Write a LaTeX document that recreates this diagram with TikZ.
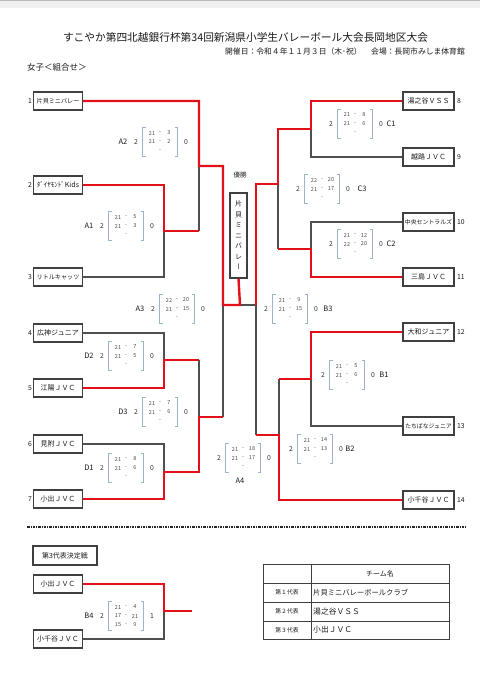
\documentclass[tikz,border=0pt]{standalone}
\usepackage{fontspec}
\setmainfont{Noto Sans CJK JP}
\newfontfamily\vfont[RawFeature=+vert]{Noto Sans CJK JP}
\definecolor{wred}{HTML}{E3101A}
\definecolor{lgray}{HTML}{4F4F4F}
\definecolor{bcol}{HTML}{9EB3CE}
\definecolor{txt}{HTML}{1A1A1A}
\tikzset{
 team/.style={draw=black!75, fill=white, line width=1.1pt, minimum width=49pt, minimum height=18pt, inner sep=0pt, font=\fontsize{7}{7}\selectfont, text=txt},
 rteam/.style={team, minimum width=51pt},
 winln/.style={draw=wred, line width=2.4pt},
 loseln/.style={draw=lgray, line width=1.2pt},
 brk/.style={draw=bcol, line width=0.6pt},
 num/.style={font=\fontsize{6.8}{7}\selectfont, text=txt, inner sep=0pt},
 sc/.style={font=\fontsize{5.5}{6}\selectfont, text=black!70, inner sep=0pt},
 res/.style={font=\fontsize{6.8}{7}\selectfont, text=black!80, inner sep=0pt},
 lbl/.style={font=\fontsize{7.5}{8}\selectfont, text=txt, inner sep=0pt},
 tbl/.style={draw=black!75, line width=1pt},
 small7/.style={font=\fontsize{6.1}{6}\selectfont},
}
\newcommand{\sblk}[9]{%
 \draw[brk] (#2-14.5,#3-14.5) -- (#2-17.5,#3-14.5) -- (#2-17.5,#3+14.5) -- (#2-14.5,#3+14.5);
 \draw[brk] (#2+14.5,#3-14.5) -- (#2+17.5,#3-14.5) -- (#2+17.5,#3+14.5) -- (#2+14.5,#3+14.5);
 \node[sc] (#1a1) at (#2-8,#3-9) {#4};
 \node[sc] (#1d1) at (#2,#3-9) {-};
 \node[sc] (#1b1) at (#2+9,#3-9) {#5};
 \node[sc] (#1a2) at (#2-8,#3) {#6};
 \node[sc] (#1d2) at (#2,#3) {-};
 \node[sc] (#1b2) at (#2+9,#3) {#7};
 \node[sc] (#1a3) at (#2-8,#3+9) {#8};
 \node[sc] (#1d3) at (#2,#3+9) {-};
 \node[sc] (#1b3) at (#2+9,#3+9) {#9};
}
\newcommand{\sres}[5]{%
 \node[res] (#1w) at (#2-24,#3) {#4};
 \node[res] (#1l) at (#2+26,#3) {#5};
}
\begin{document}
\begin{tikzpicture}[x=1pt,y=-1pt]
\useasboundingbox (0,0) rectangle (480,683);
\fill[white] (0,0) rectangle (480,683);
\fill[gray!12] (0,0) rectangle (480,8);
\draw[gray!55, line width=1pt] (0,0.8) -- (480,0.8);

% headings
\node[font=\fontsize{10.7}{12}\selectfont, text=txt, inner sep=0pt] (title) at (245.5,37) {すこやか第四北越銀行杯第34回新潟県小学生バレーボール大会長岡地区大会};
\node[font=\fontsize{7.8}{8}\selectfont, text=txt, inner sep=0pt, anchor=east] (sub) at (465,52) {開催日：令和４年１１月３日（木･祝）　 会場：長岡市みしま体育館};
\node[font=\fontsize{8.5}{9}\selectfont, text=txt, inner sep=0pt, anchor=west] (sec) at (27,67) {女子＜組合せ＞};

% junction coordinates
\coordinate (jA1) at (164,231);
\coordinate (jA1o) at (199,231);
\coordinate (jA2) at (199,166);
\coordinate (jA3t) at (223,166);
\coordinate (jA3) at (223,305);
\coordinate (jD2) at (164,360);
\coordinate (jD2o) at (199,360);
\coordinate (jD1) at (164,472);
\coordinate (jD1o) at (199,472);
\coordinate (jD3) at (199,417);
\coordinate (jD3o) at (223,417);
\coordinate (jF) at (240,305);
\coordinate (jC1) at (311,129);
\coordinate (jC1o) at (278,129);
\coordinate (jC3) at (278,184);
\coordinate (jC3o) at (256,184);
\coordinate (jC2) at (311,249);
\coordinate (jC2o) at (278,249);
\coordinate (jB3) at (256,305);
\coordinate (jB1) at (311,379);
\coordinate (jB1o) at (279,379);
\coordinate (jB2) at (279,435);
\coordinate (jB2o) at (256,435);
\coordinate (jB4) at (164,611);
\coordinate (jB4o) at (192,611);

% team boxes (left)
\node[team, small7] (t1) at (58,101) {片貝ミニバレー};
\node[team] (t2) at (58,185) {ﾀﾞｲﾔﾓﾝﾄﾞKids};
\node[team, small7] (t3) at (58,277) {リトルキャッツ};
\node[team] (t4) at (58,333) {広神ジュニア};
\node[team] (t5) at (58,388) {江陽ＪＶＣ};
\node[team] (t6) at (58,444) {見附ＪＶＣ};
\node[team] (t7) at (58,499) {小出ＪＶＣ};
% team boxes (right)
\node[rteam] (t8) at (428.5,101) {湯之谷ＶＳＳ};
\node[rteam] (t9) at (428.5,157) {越路ＪＶＣ};
\node[rteam, font=\fontsize{5.9}{6}\selectfont] (t10) at (428.5,222) {中央セントラルズ};
\node[rteam] (t11) at (428.5,277) {三島ＪＶＣ};
\node[rteam] (t12) at (428.5,332) {大和ジュニア};
\node[rteam, font=\fontsize{5.9}{6}\selectfont] (t13) at (428.5,426) {たちばなジュニア};
\node[rteam] (t14) at (428.5,500) {小千谷ＪＶＣ};

% winner box
\node[font=\fontsize{6.5}{7}\selectfont, text=txt, inner sep=0pt] (yusho) at (240,175) {優勝};
\node[draw=black!75, fill=white, line width=1.1pt, minimum width=17pt, minimum height=85pt, inner sep=0pt, align=center, font=\vfont\fontsize{7}{10.5}\selectfont, text=txt] (win) at (238.5,235.5) {片\\貝\\ミ\\ニ\\バ\\レ\\ー};

% team numbers
\foreach \i/\y in {1/101,2/185,3/277,4/333,5/388,6/444,7/499}
  \node[num] (n\i) at (30,\y) {\i};
\foreach \i/\y in {8/101,9/157,10/222,11/277,12/332,13/426,14/500}
  \node[num, anchor=west] (n\i) at (457,\y) {\i};

% losing lines
\draw[loseln] (t3.east) -| (jA1);
\draw[loseln] (jA1o) -- (jA2);
\draw[loseln] (t4.east) -| (jD2);
\draw[loseln] (t6.east) -| (jD1);
\draw[loseln] (jD2o) -- (jD3);
\draw[loseln] (jD3o) -- (jA3);
\draw[loseln] (jB3) -- (jF);
\draw[loseln] (t9.west) -| (jC1);
\draw[loseln] (t10.west) -| (jC2);
\draw[loseln] (jC2o) -- (jC3);
\draw[loseln] (t13.west) -| (jB1);
\draw[loseln] (jB1o) -- (jB2);
\draw[loseln] (jB2o) -- (jB3);

% winning lines
\draw[winln] (t1.east) -| (jA2) -- (jA3t) -- (jA3) -- (jF) -- (win.south);
\draw[winln] (t2.east) -| (jA1) -- (jA1o);
\draw[winln] (t5.east) -| (jD2) -- (jD2o);
\draw[winln] (t7.east) -| (jD1) -- (jD1o) -- (jD3) -- (jD3o);
\draw[winln] (t8.west) -| (jC1) -- (jC1o) -- (jC3) -- (jC3o) -- (jB3);
\draw[winln] (t11.west) -| (jC2) -- (jC2o);
\draw[winln] (t12.west) -| (jB1) -- (jB1o);
\draw[winln] (t14.west) -| (jB2) -- (jB2o);

% score blocks left
\sblk{A2}{160}{142}{21}{3}{21}{2}{}{}
\sres{A2}{160}{142}{2}{0}
\node[lbl] (A2n) at (123,142) {A2};
\sblk{A1}{126}{226}{21}{5}{21}{3}{}{}
\sres{A1}{126}{226}{2}{0}
\node[lbl] (A1n) at (89,226) {A1};
\sblk{A3}{177}{309}{22}{20}{21}{15}{}{}
\sres{A3}{177}{309}{2}{0}
\node[lbl] (A3n) at (140,309) {A3};
\sblk{D2}{126}{356}{21}{7}{21}{5}{}{}
\sres{D2}{126}{356}{2}{0}
\node[lbl] (D2n) at (89,356) {D2};
\sblk{D3}{160}{412}{21}{7}{21}{6}{}{}
\sres{D3}{160}{412}{2}{0}
\node[lbl] (D3n) at (123,412) {D3};
\sblk{D1}{126}{468}{21}{8}{21}{6}{}{}
\sres{D1}{126}{468}{2}{0}
\node[lbl] (D1n) at (89,468) {D1};
\sblk{A4}{243}{458}{21}{18}{21}{17}{}{}
\sres{A4}{243}{458}{2}{0}
\node[lbl] (A4n) at (240,481) {A4};
% score blocks right
\sblk{C1}{355}{124}{21}{8}{21}{6}{}{}
\sres{C1}{355}{124}{2}{0}
\node[lbl] (C1n) at (391,124) {C1};
\sblk{C3}{322}{189}{22}{20}{21}{17}{}{}
\sres{C3}{322}{189}{2}{0}
\node[lbl] (C3n) at (362,189) {C3};
\sblk{C2}{355}{244}{21}{12}{22}{20}{}{}
\sres{C2}{355}{244}{2}{0}
\node[lbl] (C2n) at (391,244) {C2};
\sblk{B3}{290}{309}{21}{9}{21}{15}{}{}
\sres{B3}{290}{309}{2}{0}
\node[lbl] (B3n) at (328,309) {B3};
\sblk{B1}{347}{375}{21}{5}{21}{6}{}{}
\sres{B1}{347}{375}{2}{0}
\node[lbl] (B1n) at (384,375) {B1};
\sblk{B2}{315}{449}{21}{14}{21}{13}{}{}
\sres{B2}{315}{449}{2}{0}
\node[lbl] (B2n) at (350,449) {B2};

% separator
\draw[black!85, line width=1.5pt, dash pattern=on 2.5pt off 1pt on 1pt off 1pt] (27,527) -- (466,527);

% third place
\node[team, minimum width=64pt, minimum height=19pt, font=\fontsize{7}{7}\selectfont] (tp0) at (65,555.5) {第3代表決定戦};
\node[team] (tp1) at (58,584) {小出ＪＶＣ};
\node[team] (tp2) at (58,639) {小千谷ＪＶＣ};
\draw[loseln] (tp2.east) -| (jB4);
\draw[winln] (tp1.east) -| (jB4) -- (jB4o);
\sblk{B4}{126}{616}{21}{4}{17}{21}{15}{9}
\sres{B4}{126}{616}{2}{1}
\node[lbl] (B4n) at (89,616) {B4};

% table
\draw[tbl] (263,564) rectangle (449,639);
\draw[tbl] (311,564) -- (311,639);
\draw[tbl] (263,583) -- (449,583);
\draw[tbl] (263,602) -- (449,602);
\draw[tbl] (263,621) -- (449,621);
\node[font=\fontsize{7}{7}\selectfont, text=txt, inner sep=0pt] (th) at (380,573.5) {チーム名};
\node[font=\fontsize{5.8}{6}\selectfont, text=txt, inner sep=0pt] (r1l) at (287,592.5) {第１代表};
\node[font=\fontsize{5.8}{6}\selectfont, text=txt, inner sep=0pt] (r2l) at (287,611.5) {第２代表};
\node[font=\fontsize{5.8}{6}\selectfont, text=txt, inner sep=0pt] (r3l) at (287,630) {第３代表};
\node[font=\fontsize{7.3}{8}\selectfont, text=txt, inner sep=0pt, anchor=west] (r1n) at (313,592.5) {片貝ミニバレーボールクラブ};
\node[font=\fontsize{7.8}{8}\selectfont, text=txt, inner sep=0pt, anchor=west] (r2n) at (313,611.5) {湯之谷ＶＳＳ};
\node[font=\fontsize{7.8}{8}\selectfont, text=txt, inner sep=0pt, anchor=west] (r3n) at (313,630) {小出ＪＶＣ};
\end{tikzpicture}
\end{document}
